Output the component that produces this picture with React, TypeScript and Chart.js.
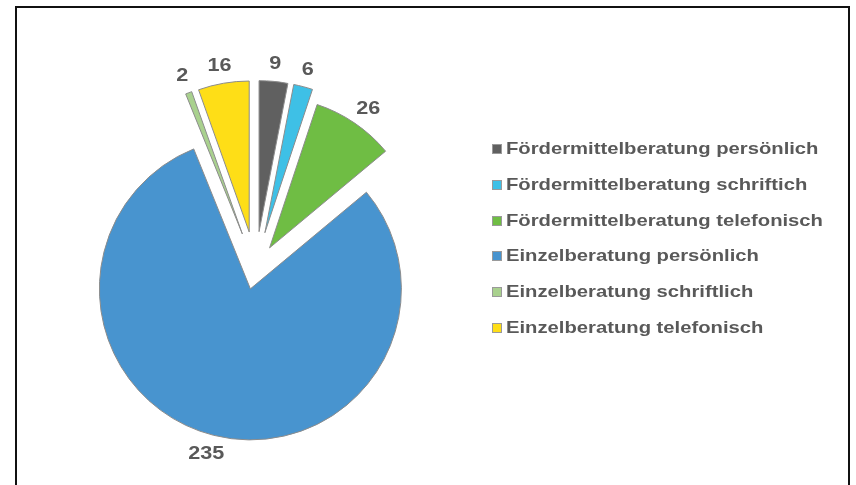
import React, { useEffect, useRef } from "react";
import { Chart, registerables } from "chart.js";

Chart.register(...registerables);

const categories = [
  "Fördermittelberatung persönlich",
  "Fördermittelberatung schriftich",
  "Fördermittelberatung telefonisch",
  "Einzelberatung persönlich",
  "Einzelberatung schriftlich",
  "Einzelberatung telefonisch",
];
const values = [9, 6, 26, 235, 2, 16];
const colors = ["#606060", "#3ec0e6", "#6fbd44", "#4894cf", "#a9d18e", "#fede17"];
const explode = [37, 37, 25, 21, 37, 37];

const RADIUS = 151;
const FONT = '"Liberation Sans", Arial, Helvetica, sans-serif';
const TEXT = "#595959";
const STRETCH = 1.2;

const explodePlugin = {
  id: "explodeSlices",
  afterDatasetsUpdate(chart: any) {
    const meta = chart.getDatasetMeta(0);
    meta.data.forEach((arc: any, i: number) => {
      const mid = (arc.startAngle + arc.endAngle) / 2;
      arc.x += Math.cos(mid) * explode[i];
      arc.y += Math.sin(mid) * explode[i];
    });
  },
};

const labelPlugin = {
  id: "valueLabels",
  afterDatasetsDraw(chart: any) {
    const ctx = chart.ctx;
    const meta = chart.getDatasetMeta(0);
    ctx.save();
    ctx.font = `bold 18px ${FONT}`;
    ctx.fillStyle = TEXT;
    ctx.textAlign = "center";
    ctx.textBaseline = "middle";
    meta.data.forEach((arc: any, i: number) => {
      const mid = (arc.startAngle + arc.endAngle) / 2;
      const txt = String(values[i]);
      const w = ctx.measureText(txt).width * STRETCH;
      const h = 13;
      const dx = Math.cos(mid);
      const dy = Math.sin(mid);
      const r = arc.outerRadius + 12;
      const x = arc.x + dx * r + (dx * w) / 2;
      const y = arc.y + dy * r + (dy * h) / 2;
      ctx.save();
      ctx.translate(x, y + 1);
      ctx.scale(STRETCH, 1);
      ctx.fillText(txt, 0, 0);
      ctx.restore();
    });
    ctx.restore();
  },
};

export default function App() {
  const ref = useRef<HTMLCanvasElement | null>(null);

  useEffect(() => {
    if (!ref.current) return;
    const chart = new Chart(ref.current, {
      type: "pie",
      data: {
        labels: categories,
        datasets: [
          {
            data: values,
            backgroundColor: colors,
            borderColor: "#8c8c8c",
            borderWidth: 1,
            radius: RADIUS,
          } as any,
        ],
      },
      options: {
        responsive: false,
        animation: false,
        rotation: 0,
        layout: { padding: { left: 20, right: 365, top: 52, bottom: 0 } },
        plugins: { legend: { display: false }, tooltip: { enabled: false } },
      },
      plugins: [explodePlugin, labelPlugin],
    });
    return () => chart.destroy();
  }, []);

  return (
    <div style={{ position: "absolute", left: 0, top: 0, width: 856, height: 485, overflow: "hidden", background: "#fff" }}>
      <div
        style={{
          position: "absolute",
          left: 15,
          top: 6,
          width: 835,
          height: 479,
          boxSizing: "border-box",
          borderTop: "2px solid #111",
          borderLeft: "2px solid #111",
          borderRight: "2px solid #111",
        }}
      />
      <canvas ref={ref} width={856} height={485} style={{ position: "absolute", left: 0, top: 0 }} />
      {categories.map((c, i) => (
        <div
          key={c}
          style={{
            position: "absolute",
            left: 492,
            top: 149 + i * 35.8 - 11,
            height: 22,
            display: "flex",
            alignItems: "center",
            whiteSpace: "nowrap",
            fontFamily: FONT,
            fontWeight: "bold",
            fontSize: 17,
            color: TEXT,
          }}
        >
          <span
            style={{
              display: "inline-block",
              width: 10,
              height: 10,
              boxSizing: "border-box",
              background: colors[i],
              border: "1px solid #9a9a9a",
              marginRight: 4,
            }}
          />
          <span style={{ display: "inline-block", transform: "scaleX(1.19)", transformOrigin: "left center" }}>{c}</span>
        </div>
      ))}
    </div>
  );
}
